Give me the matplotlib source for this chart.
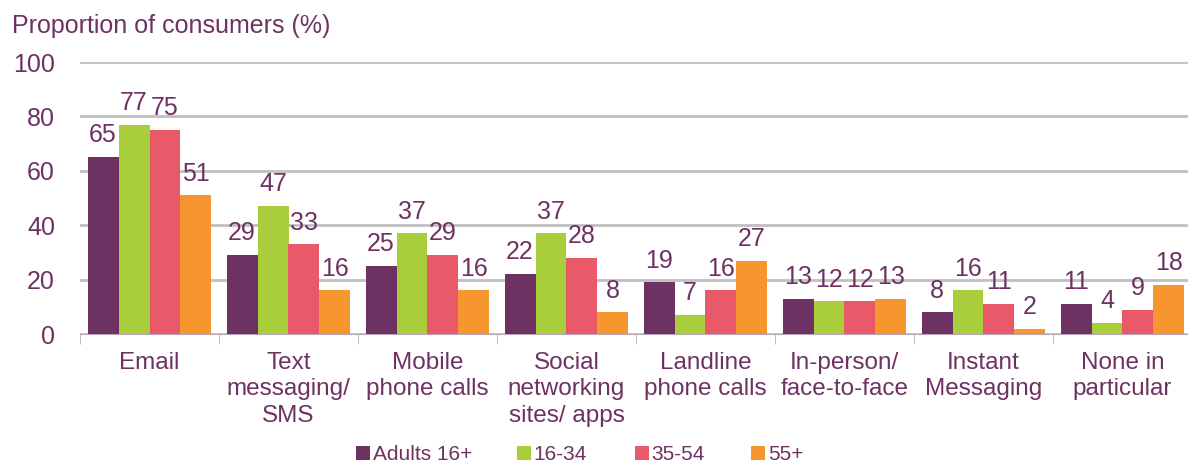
import matplotlib.pyplot as plt
import numpy as np

plt.rcParams['font.family'] = ['Liberation Sans', 'DejaVu Sans']

categories = ['Email', 'Text\nmessaging/\nSMS', 'Mobile\nphone calls',
              'Social\nnetworking\nsites/ apps', 'Landline\nphone calls',
              'In-person/\nface-to-face', 'Instant\nMessaging', 'None in\nparticular']
series_names = ['Adults 16+', '16-34', '35-54', '55+']
adults = [65, 29, 25, 22, 19, 13, 8, 11]
age_16_34 = [77, 47, 37, 37, 7, 12, 16, 4]
age_35_54 = [75, 33, 29, 28, 16, 12, 11, 9]
age_55_plus = [51, 16, 16, 8, 27, 13, 2, 18]

colors = ['#6E3262', '#A9CE3B', '#E85A6A', '#F7962F']
text_col = '#6E3262'

fig = plt.figure(figsize=(11.88, 4.66), dpi=100)
ax = fig.add_axes([80/1188, 132/466, 1112/1188, 272/466])

x = np.arange(len(categories))
w = 0.223
handles = []
for k, vals in enumerate([adults, age_16_34, age_35_54, age_55_plus]):
    pos = x - 1.5*w + k*w
    b = ax.bar(pos, vals, w, color=colors[k], label=series_names[k], zorder=3)
    handles.append(b)
    for px, v in zip(pos, vals):
        ax.annotate(str(v), (px, v), xytext=(0, 7), textcoords='offset points',
                    ha='center', va='bottom', fontsize=18, color=text_col)

ax.set_xlim(-0.5, len(categories) - 0.5)
ax.set_ylim(0, 100)
ax.set_yticks(range(0, 101, 20))
ax.yaxis.grid(True, color='#C0C0C0', linewidth=2)
ax.set_axisbelow(True)
for s in ['top', 'right', 'left']:
    ax.spines[s].set_visible(False)
ax.spines['bottom'].set_color('#B8A8B8')
ax.tick_params(axis='y', length=0, labelsize=18, labelcolor=text_col, pad=18)

# category labels centred, ticks between groups
ax.set_xticks(x)
ax.set_xticklabels(categories, fontsize=17.5, color=text_col, linespacing=1.25)
ax.tick_params(axis='x', length=0, pad=13)
ax.set_xticks(np.arange(len(categories) + 1) - 0.5, minor=True)
ax.tick_params(axis='x', which='minor', length=7, color='#B8A8B8')

fig.text(12/1188, 1 - 26/466, 'Proportion of consumers (%)', fontsize=18,
         color=text_col, va='center')

# legend entries placed one by one along the bottom
leg_x = [356, 517, 635, 751]
for h, name, lx in zip(handles, series_names, leg_x):
    leg = fig.legend([h], [name], loc='center left',
                     bbox_to_anchor=(lx/1188, 1 - 455/466), frameon=False,
                     fontsize=15, handlelength=0.65, handleheight=0.65,
                     handletextpad=0.15, borderpad=0, borderaxespad=0)
    leg.get_texts()[0].set_color(text_col)

fig.savefig('out.png', dpi=100)
